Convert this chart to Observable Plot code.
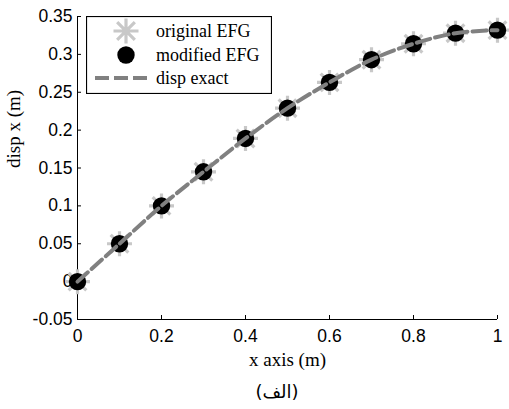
<!DOCTYPE html>
<html>
<head>
<meta charset="utf-8">
<script src="https://cdn.jsdelivr.net/npm/d3@7"></script>
<script src="https://cdn.jsdelivr.net/npm/@observablehq/plot@0.6"></script>
<style>
  html, body { margin: 0; padding: 0; background: white; }
  #wrap { position: relative; width: 509px; height: 409px; }
  #caption { position: absolute; left: 0; top: 375px; width: 509px; height: 34px; box-sizing: border-box; padding-left: 45px; text-align: center; font-family: "DejaVu Sans", sans-serif; font-size: 18px; line-height: 34px; }
  #legend { position: absolute; left: 86px; top: 16px; }
</style>
</head>
<body>
<div id="wrap"></div>
<script>
// ---- data ----
const xValues = [0, 0.1, 0.2, 0.3, 0.4, 0.5, 0.6, 0.7, 0.8, 0.9, 1];
const originalEFG = [0, 0.05, 0.1, 0.145, 0.189, 0.229, 0.263, 0.293, 0.314, 0.328, 0.332];
const modifiedEFG = [0, 0.05, 0.1, 0.145, 0.189, 0.229, 0.263, 0.293, 0.314, 0.328, 0.332];
const dispExact   = [0, 0.05, 0.1, 0.145, 0.189, 0.229, 0.263, 0.293, 0.314, 0.328, 0.332];
const xTicks = [0, 0.2, 0.4, 0.6, 0.8, 1];
const yTicks = [-0.05, 0, 0.05, 0.1, 0.15, 0.2, 0.25, 0.3, 0.35];
const seriesNames = ["original EFG", "modified EFG", "disp exact"];
const xLabel = "x axis (m)";
const yLabel = "disp x (m)";
const caption = "(الف)";

const toRows = ys => xValues.map((x, i) => ({x, y: ys[i]}));
const fmt = d => String(d);

// 8-ray asterisk symbol (MATLAB '*')
const star8 = {
  draw(context, size) {
    const r = Math.sqrt(size / Math.PI);
    for (let k = 0; k < 4; k++) {
      const a = k * Math.PI / 4;
      const c = Math.cos(a) * r, s = Math.sin(a) * r;
      context.moveTo(-c, -s);
      context.lineTo(c, s);
    }
  }
};

const serif = "'Liberation Serif', 'Times New Roman', serif";
const sans = "'Liberation Sans', Arial, sans-serif";

const chart = Plot.plot({
  width: 509,
  height: 375,
  marginLeft: 77,
  marginRight: 12,
  marginTop: 16,
  marginBottom: 56,
  style: {fontFamily: sans, fontSize: "17.5px", background: "white", color: "black"},
  x: {domain: [0, 1]},
  y: {domain: [-0.05, 0.35]},
  marks: [
    Plot.axisX({ticks: xTicks, tickSize: 0, tickPadding: 10, tickFormat: fmt, label: null, fontSize: 17.5}),
    Plot.axisY({ticks: yTicks, tickSize: 0, tickPadding: 5, tickFormat: fmt, label: null, fontSize: 17.5}),
    Plot.axisX({ticks: xTicks, tickSize: -4, fill: "none", label: null}),
    Plot.axisY({ticks: yTicks, tickSize: -4, fill: "none", label: null}),
    Plot.ruleX([0], {stroke: "black", strokeWidth: 1}),
    Plot.ruleY([-0.05], {stroke: "black", strokeWidth: 1}),
    Plot.text([xLabel], {text: d => d, frameAnchor: "bottom", dy: 40, fontFamily: serif, fontSize: 19, lineAnchor: "middle"}),
    Plot.text([yLabel], {text: d => d, frameAnchor: "left", dx: -64, rotate: -90, fontFamily: serif, fontSize: 19, lineAnchor: "middle"}),
    Plot.dot(toRows(originalEFG), {x: "x", y: "y", symbol: star8, r: 12.5, stroke: "#c8c8c8", strokeWidth: 3.2, fill: "none"}),
    Plot.dot(toRows(modifiedEFG), {x: "x", y: "y", r: 8.7, fill: "black", stroke: "none"}),
    Plot.line(toRows(dispExact), {x: "x", y: "y", stroke: "#808080", strokeWidth: 4, strokeDasharray: "14,5", curve: "catmull-rom"})
  ]
});

const wrap = document.getElementById("wrap");
wrap.appendChild(chart);

// legend
const lw = 186, lh = 78;
const leg = d3.create("svg").attr("id", "legend").attr("width", lw).attr("height", lh);
leg.append("rect").attr("x", 0.5).attr("y", 0.5).attr("width", lw - 1).attr("height", lh - 1)
  .attr("fill", "white").attr("stroke", "black").attr("stroke-width", 1.2);
const rowsY = [15, 39, 62];
const sx = 40;
const starPath = d3.path();
star8.draw(starPath, 12.5 * 12.5 * Math.PI);
leg.append("path").attr("transform", `translate(${sx},${rowsY[0]})`).attr("d", starPath.toString())
  .attr("stroke", "#c8c8c8").attr("stroke-width", 3.2).attr("fill", "none");
leg.append("circle").attr("cx", sx).attr("cy", rowsY[1]).attr("r", 8.7).attr("fill", "black");
leg.append("line").attr("x1", 9).attr("x2", 63).attr("y1", rowsY[2]).attr("y2", rowsY[2])
  .attr("stroke", "#808080").attr("stroke-width", 4).attr("stroke-dasharray", "14,5");
seriesNames.forEach((name, i) => {
  leg.append("text").attr("x", 70).attr("y", rowsY[i]).attr("dy", "0.35em")
    .attr("font-family", serif).attr("font-size", 18).text(name);
});
wrap.appendChild(leg.node());

const cap = document.createElement("div");
cap.id = "caption";
cap.dir = "rtl";
cap.textContent = caption;
wrap.appendChild(cap);
</script>
</body>
</html>
